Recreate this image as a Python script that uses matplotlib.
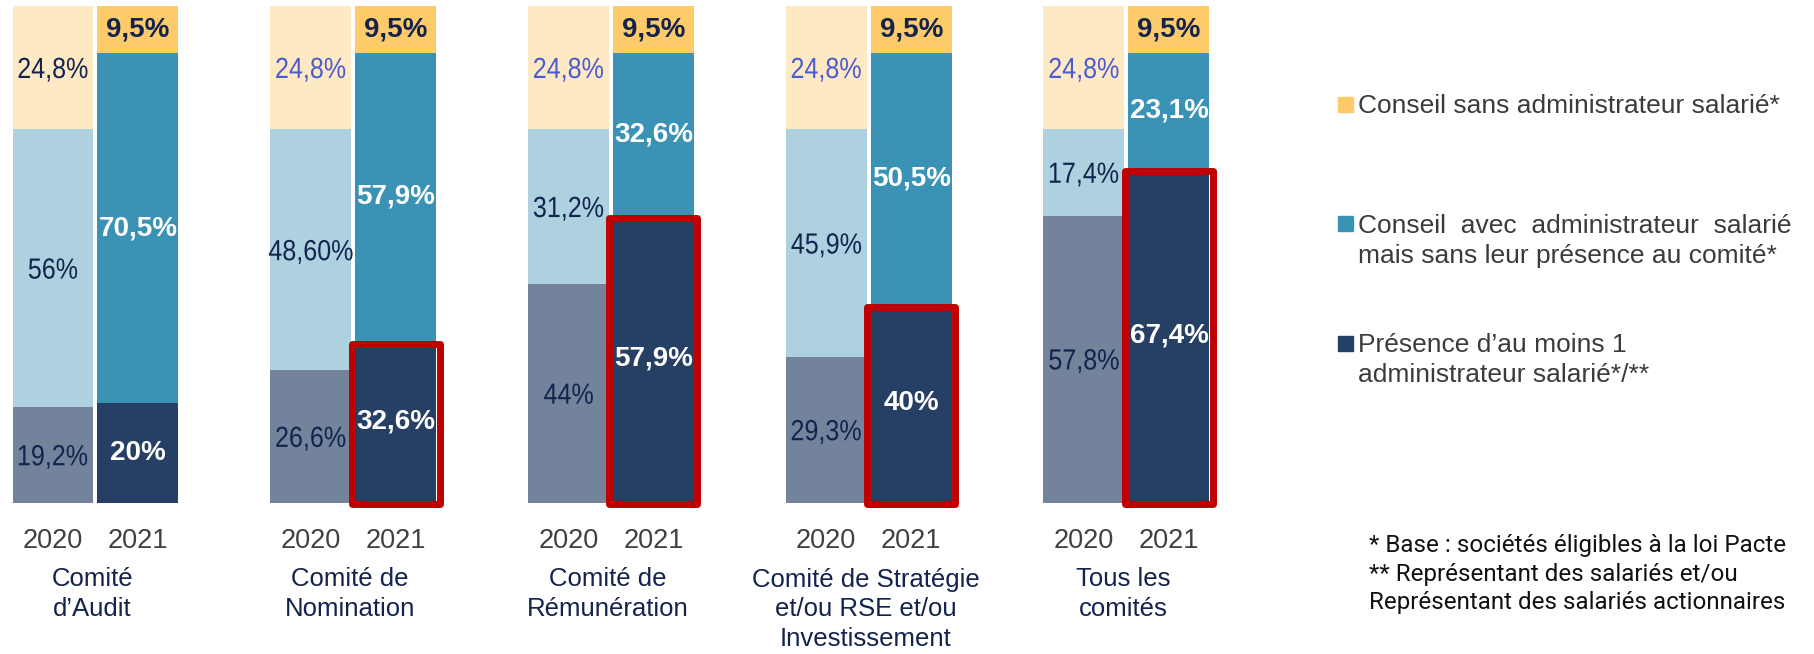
import matplotlib
matplotlib.use("Agg")
import matplotlib.pyplot as plt
import matplotlib.transforms as mtransforms
from matplotlib.patches import Rectangle, PathPatch
from matplotlib.textpath import TextPath
from matplotlib.font_manager import FontProperties

# data
categories = ["Comité\nd’Audit", "Comité de\nNomination", "Comité de\nRémunération",
              "Comité de Stratégie\net/ou RSE et/ou\nInvestissement", "Tous les\ncomités"]
years = ["2020", "2021"]
presence_2020 = [19.2, 26.6, 44.0, 29.3, 57.8]
avec_2020 = [56.0, 48.6, 31.2, 45.9, 17.4]
sans_2020 = [24.8, 24.8, 24.8, 24.8, 24.8]
presence_2021 = [20.0, 32.6, 57.9, 40.0, 67.4]
avec_2021 = [70.5, 57.9, 32.6, 50.5, 23.1]
sans_2021 = [9.5, 9.5, 9.5, 9.5, 9.5]
labels_presence_2020 = ["19,2%", "26,6%", "44%", "29,3%", "57,8%"]
labels_avec_2020 = ["56%", "48,60%", "31,2%", "45,9%", "17,4%"]
labels_sans_2020 = ["24,8%", "24,8%", "24,8%", "24,8%", "24,8%"]
labels_presence_2021 = ["20%", "32,6%", "57,9%", "40%", "67,4%"]
labels_avec_2021 = ["70,5%", "57,9%", "32,6%", "50,5%", "23,1%"]
labels_sans_2021 = ["9,5%", "9,5%", "9,5%", "9,5%", "9,5%"]
highlighted = [False, True, True, True, True]

legend_labels = [["Conseil sans administrateur salarié*"],
                 ["Conseil  avec  administrateur  salarié",
                  "mais sans leur présence au comité*"],
                 ["Présence d’au moins 1", "administrateur salarié*/**"]]
footnotes = ["* Base : sociétés éligibles à la loi Pacte",
             "** Représentant des salariés et/ou",
             "Représentant des salariés actionnaires"]

c_sans = ["#fee9c5", "#fecb6b"]
c_avec = ["#add1df", "#3a92b4"]
c_pres = ["#72839b", "#263f64"]
navy = "#13234e"
lavender = "#4b5bd0"
red = "#c00000"

sans = "Liberation Sans"
foot_font = "Roboto"

W, H = 1815, 654
fig = plt.figure(figsize=(W / 100, H / 100), dpi=100)
ax = fig.add_axes([9 / W, (H - 502.5) / H, (1227 - 9) / W, (502.5 - 6) / H])

pitch = 257.75
bw = 81 / pitch
off = 42.5 / pitch
ax.set_xlim((9 - 95.5) / pitch, (1227 - 95.5) / pitch)
ax.set_ylim(0, 100)
ax.axis("off")
px_y = 100 / (502.5 - 6)   # data units per pixel in y
px_x = 1 / pitch


def narrow_text(x, y, s, color, size=21, sx=0.86):
    # condensed label: text path squeezed horizontally
    fp = FontProperties(family=sans, size=size)
    tp = TextPath((0, 0), s, prop=fp)
    bb = tp.get_extents()
    k = fig.dpi / 72
    tr = (mtransforms.Affine2D().translate(-(bb.x0 + bb.x1) / 2, -0.716 * size / 2)
          .scale(sx * k, k) + mtransforms.ScaledTranslation(x, y, ax.transData))
    ax.add_patch(PathPatch(tp, transform=tr, fc=color, lw=0, zorder=4, clip_on=False))


ax.axhline(-0.35, color="#dcdff2", lw=1.6, zorder=0)

for i in range(len(categories)):
    for j, (pres, avec, sn) in enumerate([(presence_2020, avec_2020, sans_2020),
                                           (presence_2021, avec_2021, sans_2021)]):
        x = i + (-off if j == 0 else off)
        ax.bar(x, pres[i], bw, color=c_pres[j], zorder=2)
        ax.bar(x, avec[i], bw, bottom=pres[i], color=c_avec[j], zorder=2)
        ax.bar(x, sn[i], bw, bottom=pres[i] + avec[i], color=c_sans[j], zorder=2)
        if j == 0:
            narrow_text(x, pres[i] / 2, labels_presence_2020[i], navy)
            narrow_text(x, pres[i] + avec[i] / 2, labels_avec_2020[i], navy)
            narrow_text(x, pres[i] + avec[i] + sn[i] / 2, labels_sans_2020[i],
                        navy if i == 0 else lavender)
        else:
            kw = dict(family=sans, fontsize=20, fontweight="bold", ha="center",
                      va="center", zorder=4)
            ax.text(x, pres[i] / 2, labels_presence_2021[i], color="white", **kw)
            ax.text(x, pres[i] + avec[i] / 2, labels_avec_2021[i], color="white", **kw)
            ax.text(x, pres[i] + avec[i] + sn[i] / 2, labels_sans_2021[i], color=navy, **kw)
            if highlighted[i]:
                ax.add_patch(Rectangle((x - bw / 2 - 3.5 * px_x, -1.2 * px_y),
                                       bw + 7 * px_x, pres[i] - 2.2 * px_y,
                                       fill=False, ec=red, lw=5, joinstyle="round",
                                       zorder=5, clip_on=False))
        ax.text(x, -38 * px_y, years[j], family=sans, fontsize=19.5, color="#404040",
                ha="center", va="center", clip_on=False)
    ax.text(i - 3 * px_x, -65 * px_y, categories[i], family=sans, fontsize=18.5, color=navy,
            ha="center", va="top", linespacing=1.3, clip_on=False)

# legend
sq_tops = [97, 216, 336]
line_base = [[113], [233, 263], [352, 382]]
for k in range(3):
    fig.patches.append(Rectangle((1338 / W, 1 - (sq_tops[k] + 14.5) / H), 15 / W, 14.5 / H,
                                 transform=fig.transFigure, color=[c_sans[1], c_avec[1], c_pres[1]][k]))
    for line, yb in zip(legend_labels[k], line_base[k]):
        fig.text(1358 / W, 1 - yb / H, line, family=sans, fontsize=19, color="#3b3b3b",
                 ha="left", va="baseline")

for line, yb in zip(footnotes, [552, 581, 609]):
    fig.text(1369 / W, 1 - yb / H, line, family=foot_font, fontsize=17.4, color="#111111",
             ha="left", va="baseline")

fig.savefig("out.png", dpi=100)
